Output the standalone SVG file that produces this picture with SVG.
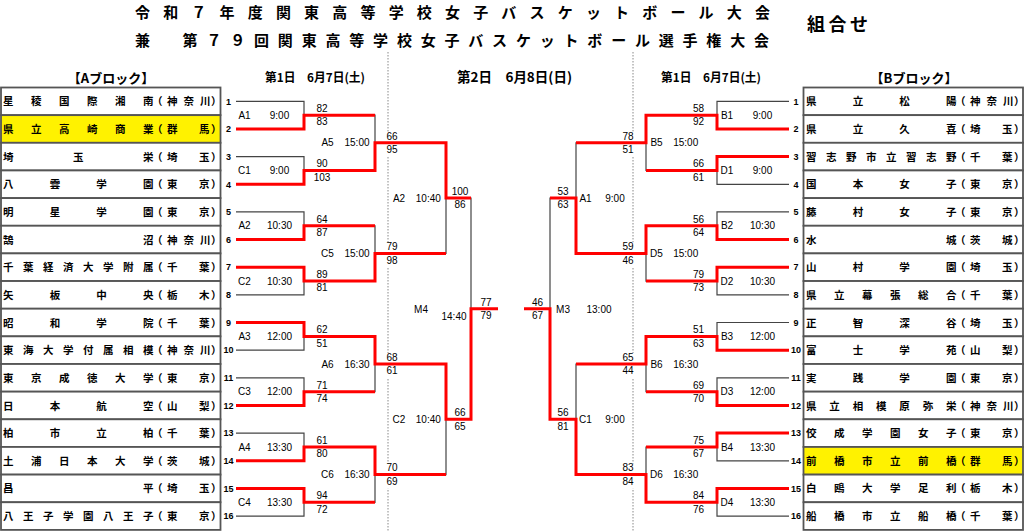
<svg xmlns="http://www.w3.org/2000/svg" width="1024" height="532" viewBox="0 0 1024 532">
<style>
.t{font-family:"Noto Sans CJK JP","Noto Sans",sans-serif;font-weight:700;font-size:10.5px;fill:#000}
.sn{font-family:"Liberation Sans",Arial,sans-serif;font-weight:700;font-size:9px;text-anchor:middle;fill:#000}
.sc{font-family:"Liberation Sans",Arial,sans-serif;font-size:10px;text-anchor:middle;fill:#000}
.hd{font-family:"Noto Sans CJK JP",sans-serif;font-weight:700;font-size:12px;text-anchor:middle;fill:#000}
.ttl{font-family:"Noto Sans CJK JP",sans-serif;font-weight:700;font-size:15px;fill:#000}
.cell{fill:#fff;stroke:#555;stroke-width:1.8}
.hl{fill:#fff200}
.ln{fill:none;stroke:#444;stroke-width:1.2}
.rd{fill:none;stroke:#f00;stroke-width:3;stroke-linejoin:miter}
.dot{stroke:#888;stroke-width:1;stroke-dasharray:1.5 1.5}
.gap{fill:#fff}
</style>
<rect width="1024" height="532" fill="#fff"/>
<g id="title">
<text class="ttl" x="135" y="17.5" textLength="635" lengthAdjust="spacing">令和７年度関東高等学校女子バスケットボール大会</text>
<text class="ttl" x="135" y="45.5" textLength="634" lengthAdjust="spacing">兼　第７９回関東高等学校女子バスケットボール選手権大会</text>
<text class="ttl" x="807" y="30.5" style="font-size:18px" textLength="61" lengthAdjust="spacing">組合せ</text>
</g>
<g id="headers">
<text class="hd" x="111" y="82.5" style="font-size:13px">【Aブロック】</text>
<text class="hd" x="914" y="82.5" style="font-size:13px">【Bブロック】</text>
<text class="hd" x="315" y="82" textLength="100" lengthAdjust="spacingAndGlyphs">第1日　6月7日(土)</text>
<text class="hd" x="514.5" y="82" style="font-size:13.5px" textLength="115" lengthAdjust="spacingAndGlyphs">第2日　6月8日(日)</text>
<text class="hd" x="711" y="82" textLength="100" lengthAdjust="spacingAndGlyphs">第1日　6月7日(土)</text>
</g>
<g id="day-dividers">
<line class="dot" x1="388" y1="52" x2="388" y2="532"/>
<line class="dot" x1="633" y1="52" x2="633" y2="532"/>
<rect class="gap" x="383" y="131.8" width="10" height="25"/>
<rect class="gap" x="383" y="242.4" width="10" height="25"/>
<rect class="gap" x="383" y="353" width="10" height="25"/>
<rect class="gap" x="383" y="463.6" width="10" height="25"/>
<rect class="gap" x="628" y="131.8" width="10" height="25"/>
<rect class="gap" x="628" y="242.4" width="10" height="25"/>
<rect class="gap" x="628" y="353" width="10" height="25"/>
<rect class="gap" x="628" y="463.6" width="10" height="25"/>
</g>
<g id="block-a">
<g id="a01"><rect class="cell" x="1" y="87.5" width="219.5" height="27.65"/><text class="t" x="3 31 59 87 115 143" y="105.3">星稜国際湘南</text><text class="t" x="152 167 183.5 200 211" y="105.3">（神奈川）</text><text class="sn" x="228.5" y="104.5">1</text></g>
<g id="a02"><rect class="cell hl" x="1" y="115.15" width="219.5" height="27.65"/><text class="t" x="3 31 59 87 115 143" y="133">県立高崎商業</text><text class="t" x="152 167 199 211" y="133">（群馬）</text><text class="sn" x="228.5" y="132.2">2</text></g>
<g id="a03"><rect class="cell" x="1" y="142.8" width="219.5" height="27.65"/><text class="t" x="3 73 143" y="160.6">埼玉栄</text><text class="t" x="152 167 199 211" y="160.6">（埼玉）</text><text class="sn" x="228.5" y="159.8">3</text></g>
<g id="a04"><rect class="cell" x="1" y="170.45" width="219.5" height="27.65"/><text class="t" x="3 49.7 96.3 143" y="188.3">八雲学園</text><text class="t" x="152 167 199 211" y="188.3">（東京）</text><text class="sn" x="228.5" y="187.5">4</text></g>
<g id="a05"><rect class="cell" x="1" y="198.1" width="219.5" height="27.65"/><text class="t" x="3 49.7 96.3 143" y="215.9">明星学園</text><text class="t" x="152 167 199 211" y="215.9">（東京）</text><text class="sn" x="228.5" y="215.1">5</text></g>
<g id="a06"><rect class="cell" x="1" y="225.75" width="219.5" height="27.65"/><text class="t" x="3 143" y="243.6">鵠沼</text><text class="t" x="152 167 183.5 200 211" y="243.6">（神奈川）</text><text class="sn" x="228.5" y="242.8">6</text></g>
<g id="a07"><rect class="cell" x="1" y="253.4" width="219.5" height="27.65"/><text class="t" x="3 23 43 63 83 103 123 143" y="271.2">千葉経済大学附属</text><text class="t" x="152 167 199 211" y="271.2">（千葉）</text><text class="sn" x="228.5" y="270.4">7</text></g>
<g id="a08"><rect class="cell" x="1" y="281.05" width="219.5" height="27.65"/><text class="t" x="3 49.7 96.3 143" y="298.9">矢板中央</text><text class="t" x="152 167 199 211" y="298.9">（栃木）</text><text class="sn" x="228.5" y="298.1">8</text></g>
<g id="a09"><rect class="cell" x="1" y="308.7" width="219.5" height="27.65"/><text class="t" x="3 49.7 96.3 143" y="326.5">昭和学院</text><text class="t" x="152 167 199 211" y="326.5">（千葉）</text><text class="sn" x="228.5" y="325.7">9</text></g>
<g id="a10"><rect class="cell" x="1" y="336.35" width="219.5" height="27.65"/><text class="t" x="3 23 43 63 83 103 123 143" y="354.2">東海大学付属相模</text><text class="t" x="152 167 183.5 200 211" y="354.2">（神奈川）</text><text class="sn" x="228.5" y="353.4">10</text></g>
<g id="a11"><rect class="cell" x="1" y="364" width="219.5" height="27.65"/><text class="t" x="3 31 59 87 115 143" y="381.8">東京成徳大学</text><text class="t" x="152 167 199 211" y="381.8">（東京）</text><text class="sn" x="228.5" y="381">11</text></g>
<g id="a12"><rect class="cell" x="1" y="391.65" width="219.5" height="27.65"/><text class="t" x="3 49.7 96.3 143" y="409.5">日本航空</text><text class="t" x="152 167 199 211" y="409.5">（山梨）</text><text class="sn" x="228.5" y="408.7">12</text></g>
<g id="a13"><rect class="cell" x="1" y="419.3" width="219.5" height="27.65"/><text class="t" x="3 49.7 96.3 143" y="437.1">柏市立柏</text><text class="t" x="152 167 199 211" y="437.1">（千葉）</text><text class="sn" x="228.5" y="436.3">13</text></g>
<g id="a14"><rect class="cell" x="1" y="446.95" width="219.5" height="27.65"/><text class="t" x="3 31 59 87 115 143" y="464.8">土浦日本大学</text><text class="t" x="152 167 199 211" y="464.8">（茨城）</text><text class="sn" x="228.5" y="464">14</text></g>
<g id="a15"><rect class="cell" x="1" y="474.6" width="219.5" height="27.65"/><text class="t" x="3 143" y="492.4">昌平</text><text class="t" x="152 167 199 211" y="492.4">（埼玉）</text><text class="sn" x="228.5" y="491.6">15</text></g>
<g id="a16"><rect class="cell" x="1" y="502.25" width="219.5" height="27.65"/><text class="t" x="3 23 43 63 83 103 123 143" y="520.1">八王子学園八王子</text><text class="t" x="152 167 199 211" y="520.1">（東京）</text><text class="sn" x="228.5" y="519.3">16</text></g>
</g>
<g id="block-b" transform="translate(803,0)">
<g id="b01"><rect class="cell" x="0.5" y="87.5" width="219.5" height="27.65"/><text class="t" x="3 49.7 96.3 143" y="105.3">県立松陽</text><text class="t" x="152 167 183.5 200 211" y="105.3">（神奈川）</text><text class="sn" x="-7" y="104.5">1</text></g>
<g id="b02"><rect class="cell" x="0.5" y="115.15" width="219.5" height="27.65"/><text class="t" x="3 49.7 96.3 143" y="133">県立久喜</text><text class="t" x="152 167 199 211" y="133">（埼玉）</text><text class="sn" x="-7" y="132.2">2</text></g>
<g id="b03"><rect class="cell" x="0.5" y="142.8" width="219.5" height="27.65"/><text class="t" x="3 23 43 63 83 103 123 143" y="160.6">習志野市立習志野</text><text class="t" x="152 167 199 211" y="160.6">（千葉）</text><text class="sn" x="-7" y="159.8">3</text></g>
<g id="b04"><rect class="cell" x="0.5" y="170.45" width="219.5" height="27.65"/><text class="t" x="3 49.7 96.3 143" y="188.3">国本女子</text><text class="t" x="152 167 199 211" y="188.3">（東京）</text><text class="sn" x="-7" y="187.5">4</text></g>
<g id="b05"><rect class="cell" x="0.5" y="198.1" width="219.5" height="27.65"/><text class="t" x="3 49.7 96.3 143" y="215.9">藤村女子</text><text class="t" x="152 167 199 211" y="215.9">（東京）</text><text class="sn" x="-7" y="215.1">5</text></g>
<g id="b06"><rect class="cell" x="0.5" y="225.75" width="219.5" height="27.65"/><text class="t" x="3 143" y="243.6">水城</text><text class="t" x="152 167 199 211" y="243.6">（茨城）</text><text class="sn" x="-7" y="242.8">6</text></g>
<g id="b07"><rect class="cell" x="0.5" y="253.4" width="219.5" height="27.65"/><text class="t" x="3 49.7 96.3 143" y="271.2">山村学園</text><text class="t" x="152 167 199 211" y="271.2">（埼玉）</text><text class="sn" x="-7" y="270.4">7</text></g>
<g id="b08"><rect class="cell" x="0.5" y="281.05" width="219.5" height="27.65"/><text class="t" x="3 31 59 87 115 143" y="298.9">県立幕張総合</text><text class="t" x="152 167 199 211" y="298.9">（千葉）</text><text class="sn" x="-7" y="298.1">8</text></g>
<g id="b09"><rect class="cell" x="0.5" y="308.7" width="219.5" height="27.65"/><text class="t" x="3 49.7 96.3 143" y="326.5">正智深谷</text><text class="t" x="152 167 199 211" y="326.5">（埼玉）</text><text class="sn" x="-7" y="325.7">9</text></g>
<g id="b10"><rect class="cell" x="0.5" y="336.35" width="219.5" height="27.65"/><text class="t" x="3 49.7 96.3 143" y="354.2">富士学苑</text><text class="t" x="152 167 199 211" y="354.2">（山梨）</text><text class="sn" x="-7" y="353.4">10</text></g>
<g id="b11"><rect class="cell" x="0.5" y="364" width="219.5" height="27.65"/><text class="t" x="3 49.7 96.3 143" y="381.8">実践学園</text><text class="t" x="152 167 199 211" y="381.8">（東京）</text><text class="sn" x="-7" y="381">11</text></g>
<g id="b12"><rect class="cell" x="0.5" y="391.65" width="219.5" height="27.65"/><text class="t" x="3 26.3 49.7 73 96.3 119.7 143" y="409.5">県立相模原弥栄</text><text class="t" x="152 167 183.5 200 211" y="409.5">（神奈川）</text><text class="sn" x="-7" y="408.7">12</text></g>
<g id="b13"><rect class="cell" x="0.5" y="419.3" width="219.5" height="27.65"/><text class="t" x="3 31 59 87 115 143" y="437.1">佼成学園女子</text><text class="t" x="152 167 199 211" y="437.1">（東京）</text><text class="sn" x="-7" y="436.3">13</text></g>
<g id="b14"><rect class="cell hl" x="0.5" y="446.95" width="219.5" height="27.65"/><text class="t" x="3 31 59 87 115 143" y="464.8">前橋市立前橋</text><text class="t" x="152 167 199 211" y="464.8">（群馬）</text><text class="sn" x="-7" y="464">14</text></g>
<g id="b15"><rect class="cell" x="0.5" y="474.6" width="219.5" height="27.65"/><text class="t" x="3 31 59 87 115 143" y="492.4">白鴎大学足利</text><text class="t" x="152 167 199 211" y="492.4">（栃木）</text><text class="sn" x="-7" y="491.6">15</text></g>
<g id="b16"><rect class="cell" x="0.5" y="502.25" width="219.5" height="27.65"/><text class="t" x="3 31 59 87 115 143" y="520.1">船橋市立船橋</text><text class="t" x="152 167 199 211" y="520.1">（千葉）</text><text class="sn" x="-7" y="519.3">16</text></g>
</g>
<g id="connectors">
<path class="ln" d="M236,101.3H304V129H236M236,156.6H304V184.3H236M236,211.9H304V239.6H236M236,267.2H304V294.9H236M236,322.5H304V350.2H236M236,377.8H304V405.5H236M236,433.1H304V460.8H236M236,488.4H304V516.1H236"/>
<path class="ln" d="M304,115.2H375V170.5H304M304,225.8H375V281.1H304M304,336.4H375V391.7H304M304,447H375V502.3H304"/>
<path class="ln" d="M375,142.8H446V253.4H375M375,364H446V474.6H375M446,198.1H471V419.3H446M471,308.7H498"/>
<path class="ln" d="M789,101.3H717V129H789M789,156.6H717V184.3H789M789,211.9H717V239.6H789M789,267.2H717V294.9H789M789,322.5H717V350.2H789M789,377.8H717V405.5H789M789,433.1H717V460.8H789M789,488.4H717V516.1H789"/>
<path class="ln" d="M717,115.2H646V170.5H717M717,225.8H646V281.1H717M717,336.4H646V391.7H717M717,447H646V502.3H717"/>
<path class="ln" d="M646,142.8H576V253.4H646M646,364H576V474.6H646M576,198.1H550V419.3H576M550,308.7H524"/>
<path class="rd" d="M236,129H304V115.2H375"/>
<path class="rd" d="M236,184.3H304V170.5H375V142.8H446V198.1H471"/>
<path class="rd" d="M236,239.6H304V225.8H375"/>
<path class="rd" d="M236,267.2H304V281.1H375V253.4H446"/>
<path class="rd" d="M236,322.5H304V336.4H375V364H446V419.3H471V308.7H498"/>
<path class="rd" d="M236,405.5H304V391.7H375"/>
<path class="rd" d="M236,460.8H304V447H375V474.6H446"/>
<path class="rd" d="M236,488.4H304V502.3H375"/>
<path class="rd" d="M789,129H717V115.2H646V142.8H576"/>
<path class="rd" d="M789,156.6H717V170.5H646"/>
<path class="rd" d="M789,239.6H717V225.8H646V253.4H576V198.1H550"/>
<path class="rd" d="M789,267.2H717V281.1H646"/>
<path class="rd" d="M789,350.2H717V336.4H646V364H576"/>
<path class="rd" d="M789,405.5H717V391.7H646"/>
<path class="rd" d="M789,433.1H717V447H646"/>
<path class="rd" d="M789,488.4H717V502.3H646V474.6H576V419.3H550V308.7H524"/>
</g>
<g id="matches-a">
<g id="mA1"><text class="sc" x="244.5" y="118.8">A1</text><text class="sc" x="279.5" y="118.8">9:00</text><text class="sc" x="322" y="112">82</text><text class="sc" x="322" y="125.4">83</text></g>
<g id="mC1"><text class="sc" x="244.5" y="174.1">C1</text><text class="sc" x="279.5" y="174.1">9:00</text><text class="sc" x="322" y="167.3">90</text><text class="sc" x="322" y="180.7">103</text></g>
<g id="mA2a"><text class="sc" x="244.5" y="229.4">A2</text><text class="sc" x="279.5" y="229.4">10:30</text><text class="sc" x="322" y="222.6">64</text><text class="sc" x="322" y="236">87</text></g>
<g id="mC2a"><text class="sc" x="244.5" y="284.7">C2</text><text class="sc" x="279.5" y="284.7">10:30</text><text class="sc" x="322" y="277.9">89</text><text class="sc" x="322" y="291.3">81</text></g>
<g id="mA3"><text class="sc" x="244.5" y="340">A3</text><text class="sc" x="279.5" y="340">12:00</text><text class="sc" x="322" y="333.2">62</text><text class="sc" x="322" y="346.6">51</text></g>
<g id="mC3"><text class="sc" x="244.5" y="395.3">C3</text><text class="sc" x="279.5" y="395.3">12:00</text><text class="sc" x="322" y="388.5">71</text><text class="sc" x="322" y="401.9">74</text></g>
<g id="mA4"><text class="sc" x="244.5" y="450.6">A4</text><text class="sc" x="279.5" y="450.6">13:30</text><text class="sc" x="322" y="443.8">61</text><text class="sc" x="322" y="457.2">80</text></g>
<g id="mC4"><text class="sc" x="244.5" y="505.9">C4</text><text class="sc" x="279.5" y="505.9">13:30</text><text class="sc" x="322" y="499.1">94</text><text class="sc" x="322" y="512.5">72</text></g>
<g id="mA5"><text class="sc" x="327.5" y="146.4">A5</text><text class="sc" x="357" y="146.4">15:00</text><text class="sc" x="392" y="139.6">66</text><text class="sc" x="392" y="153">95</text></g>
<g id="mC5"><text class="sc" x="327.5" y="257">C5</text><text class="sc" x="357" y="257">15:00</text><text class="sc" x="392" y="250.2">79</text><text class="sc" x="392" y="263.6">98</text></g>
<g id="mA6"><text class="sc" x="327.5" y="367.6">A6</text><text class="sc" x="357" y="367.6">16:30</text><text class="sc" x="392" y="360.8">68</text><text class="sc" x="392" y="374.2">61</text></g>
<g id="mC6"><text class="sc" x="327.5" y="478.2">C6</text><text class="sc" x="357" y="478.2">16:30</text><text class="sc" x="392" y="471.4">70</text><text class="sc" x="392" y="484.8">69</text></g>
<g id="mA2b"><text class="sc" x="399" y="201.7">A2</text><text class="sc" x="428.3" y="201.7">10:40</text><text class="sc" x="460" y="194.9">100</text><text class="sc" x="460" y="208.3">86</text></g>
<g id="mC2b"><text class="sc" x="399" y="422.9">C2</text><text class="sc" x="428.3" y="422.9">10:40</text><text class="sc" x="460" y="416.1">66</text><text class="sc" x="460" y="429.5">65</text></g>
<g id="mM4"><text class="sc" x="421" y="312.6">M4</text><text class="sc" x="454" y="319.9">14:40</text><text class="sc" x="486" y="305.5">77</text><text class="sc" x="486" y="318.9">79</text></g>
</g>
<g id="matches-b">
<g id="mB1"><text class="sc" x="727" y="118.8">B1</text><text class="sc" x="762.5" y="118.8">9:00</text><text class="sc" x="698.5" y="112">58</text><text class="sc" x="698.5" y="125.4">92</text></g>
<g id="mD1"><text class="sc" x="727" y="174.1">D1</text><text class="sc" x="762.5" y="174.1">9:00</text><text class="sc" x="698.5" y="167.3">66</text><text class="sc" x="698.5" y="180.7">61</text></g>
<g id="mB2"><text class="sc" x="727" y="229.4">B2</text><text class="sc" x="762.5" y="229.4">10:30</text><text class="sc" x="698.5" y="222.6">56</text><text class="sc" x="698.5" y="236">64</text></g>
<g id="mD2"><text class="sc" x="727" y="284.7">D2</text><text class="sc" x="762.5" y="284.7">10:30</text><text class="sc" x="698.5" y="277.9">79</text><text class="sc" x="698.5" y="291.3">73</text></g>
<g id="mB3"><text class="sc" x="727" y="340">B3</text><text class="sc" x="762.5" y="340">12:00</text><text class="sc" x="698.5" y="333.2">51</text><text class="sc" x="698.5" y="346.6">63</text></g>
<g id="mD3"><text class="sc" x="727" y="395.3">D3</text><text class="sc" x="762.5" y="395.3">12:00</text><text class="sc" x="698.5" y="388.5">69</text><text class="sc" x="698.5" y="401.9">70</text></g>
<g id="mB4"><text class="sc" x="727" y="450.6">B4</text><text class="sc" x="762.5" y="450.6">13:30</text><text class="sc" x="698.5" y="443.8">75</text><text class="sc" x="698.5" y="457.2">67</text></g>
<g id="mD4"><text class="sc" x="727" y="505.9">D4</text><text class="sc" x="762.5" y="505.9">13:30</text><text class="sc" x="698.5" y="499.1">84</text><text class="sc" x="698.5" y="512.5">76</text></g>
<g id="mB5"><text class="sc" x="656.5" y="146.4">B5</text><text class="sc" x="685.7" y="146.4">15:00</text><text class="sc" x="628" y="139.6">78</text><text class="sc" x="628" y="153">51</text></g>
<g id="mD5"><text class="sc" x="656.5" y="257">D5</text><text class="sc" x="685.7" y="257">15:00</text><text class="sc" x="628" y="250.2">59</text><text class="sc" x="628" y="263.6">46</text></g>
<g id="mB6"><text class="sc" x="656.5" y="367.6">B6</text><text class="sc" x="685.7" y="367.6">16:30</text><text class="sc" x="628" y="360.8">65</text><text class="sc" x="628" y="374.2">44</text></g>
<g id="mD6"><text class="sc" x="656.5" y="478.2">D6</text><text class="sc" x="685.7" y="478.2">16:30</text><text class="sc" x="628" y="471.4">83</text><text class="sc" x="628" y="484.8">84</text></g>
<g id="mA1b"><text class="sc" x="585.5" y="201.7">A1</text><text class="sc" x="615" y="201.7">9:00</text><text class="sc" x="563" y="194.9">53</text><text class="sc" x="563" y="208.3">63</text></g>
<g id="mC1b"><text class="sc" x="585.5" y="422.9">C1</text><text class="sc" x="615" y="422.9">9:00</text><text class="sc" x="563" y="416.1">56</text><text class="sc" x="563" y="429.5">81</text></g>
<g id="mM3"><text class="sc" x="563" y="312.6">M3</text><text class="sc" x="599" y="312.6">13:00</text><text class="sc" x="537.5" y="305.5">46</text><text class="sc" x="537.5" y="318.9">67</text></g>
</g>
</svg>
